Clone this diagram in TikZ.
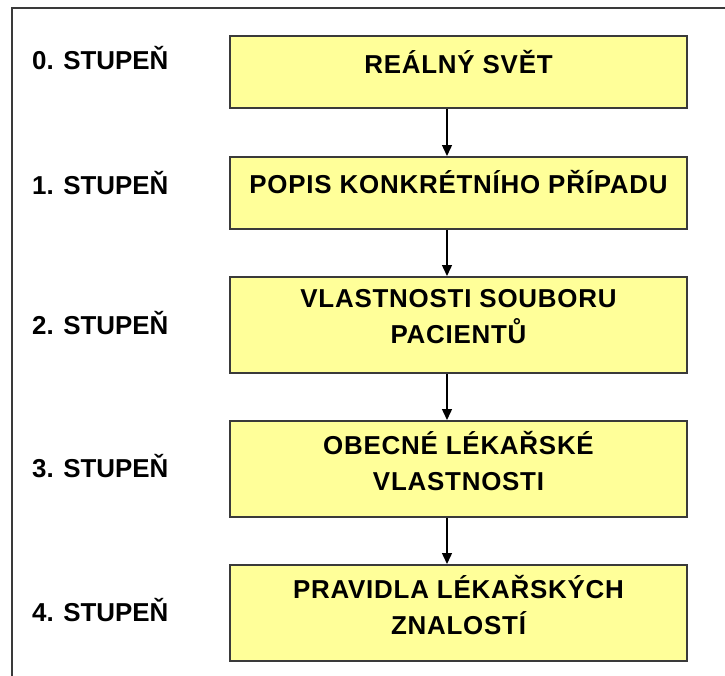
\documentclass[tikz,border=0pt]{standalone}
\usepackage{fontspec}
\setmainfont{Liberation Sans}
\usetikzlibrary{arrows.meta}
\definecolor{stepfill}{HTML}{FFFF99}
\definecolor{frameline}{HTML}{3A3A3A}
\begin{document}
\begin{tikzpicture}[x=1bp,y=-1bp,
  stepbox/.style={draw=frameline,line width=1.8bp,fill=stepfill,rectangle,
    minimum width=457bp,anchor=north,inner sep=0pt},
  steptext/.style={font=\bfseries\fontsize{26}{36}\selectfont\addfontfeature{LetterSpace=3},align=center,inner sep=0pt},
  levellabel/.style={font=\bfseries\fontsize{26}{30}\selectfont,anchor=base west,inner sep=0pt},
  flow/.style={line width=1.4bp,-{Triangle[width=10bp,length=11bp]}}]
  % page and outer frame
  \fill[white] (0,0) rectangle (725,676);
  \useasboundingbox (0,0) rectangle (725,676);
  \draw[frameline,line width=2bp] (12,677) -- (12,8) -- (726,8);

  % step boxes
  \node[stepbox,minimum height=72bp] (b0) at (458.5,35) {};
  \node[stepbox,minimum height=72bp] (b1) at (458.5,156) {};
  \node[stepbox,minimum height=96bp] (b2) at (458.5,276) {};
  \node[stepbox,minimum height=96bp] (b3) at (458.5,420) {};
  \node[stepbox,minimum height=96bp] (b4) at (458.5,564) {};

  % box texts
  \node[steptext] (t0) at (458.5,62) {REÁLNÝ SVĚT};
  \node[steptext] (t1) at (458.5,182) {POPIS KONKRÉTNÍHO PŘÍPADU};
  \node[steptext] (t2) at (458.5,317) {VLASTNOSTI SOUBORU\\PACIENTŮ};
  \node[steptext] (t3) at (458.5,461) {OBECNÉ LÉKAŘSKÉ\\VLASTNOSTI};
  \node[steptext] (t4) at (458.5,605) {PRAVIDLA LÉKAŘSKÝCH\\ZNALOSTÍ};

  % level labels
  \node[levellabel] (l0) at (32,70) {0. STUPEŇ};
  \node[levellabel] (l1) at (32,194) {1. STUPEŇ};
  \node[levellabel] (l2) at (32,334) {2. STUPEŇ};
  \node[levellabel] (l3) at (32,477) {3. STUPEŇ};
  \node[levellabel] (l4) at (32,621) {4. STUPEŇ};

  % connectors
  \coordinate (ax) at (447,0);
  \draw[flow] (b0.south -| ax) -- (b1.north -| ax);
  \draw[flow] (b1.south -| ax) -- (b2.north -| ax);
  \draw[flow] (b2.south -| ax) -- (b3.north -| ax);
  \draw[flow] (b3.south -| ax) -- (b4.north -| ax);
\end{tikzpicture}
\end{document}
